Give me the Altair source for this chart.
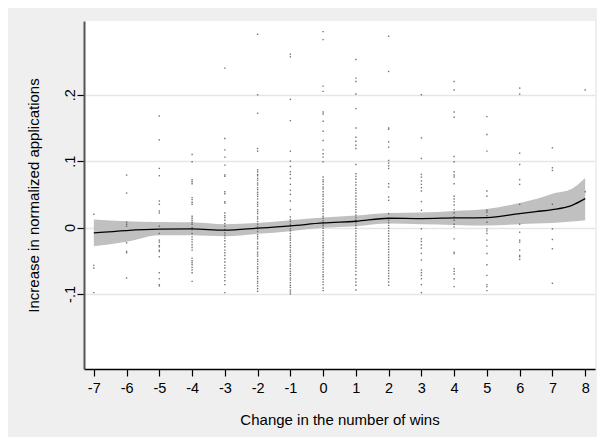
import altair as alt
import pandas as pd

# ---------------- data ----------------
x_ticks = list(range(-7, 9))
y_ticks = [-0.1, 0, 0.1, 0.2]

pts_m7 = [0.020, -0.057, -0.061, -0.098]
pts_m6 = [0.079, 0.052, 0.008, 0.005, 0.002, -0.023, -0.036, -0.038, -0.076]
pts_m5 = [0.168, 0.132, 0.089, 0.078, 0.040, 0.035, 0.025, 0.022, 0.002, -0.009,
          -0.019, -0.022, -0.027, -0.029, -0.034, -0.036, -0.044, -0.068, -0.077,
          -0.086, -0.088]
pts_m4 = [0.110, 0.099, 0.072, 0.069, 0.066, 0.045, 0.042, 0.038, 0.035, 0.017,
          0.014, 0.011, 0.008, 0.005, 0.000, -0.003, -0.009, -0.014, -0.018, -0.022,
          -0.026, -0.030, -0.034, -0.046, -0.050, -0.053, -0.056, -0.060, -0.064,
          -0.068, -0.081]
pts_m3 = [0.240, 0.134, 0.117, 0.106, 0.094, 0.079, 0.077, 0.054, 0.051, 0.039,
          0.037, 0.022, 0.018, 0.015, 0.011, 0.006, 0.002, -0.003, -0.008, -0.012,
          -0.016, -0.020, -0.025, -0.029, -0.034, -0.038, -0.042, -0.047, -0.052,
          -0.057, -0.061, -0.066, -0.071, -0.075, -0.080, -0.086, -0.098]
pts_m2 = [0.291, 0.200, 0.172, 0.119, 0.115, 0.087, 0.084, 0.080, 0.078, 0.074,
          0.071, 0.067, 0.064, 0.060, 0.057, 0.053, 0.050, 0.047, 0.043, 0.038,
          0.035, 0.032, 0.027, 0.024, 0.021, 0.016, 0.013, 0.009, 0.005, 0.001,
          -0.002, -0.006, -0.011, -0.014, -0.017, -0.022, -0.025, -0.029, -0.032,
          -0.037, -0.040, -0.043, -0.048, -0.051, -0.055, -0.059, -0.062, -0.066,
          -0.069, -0.074, -0.077, -0.081, -0.084, -0.088, -0.092, -0.096]
pts_m1 = [0.261, 0.257, 0.193, 0.161, 0.115, 0.100, 0.092, 0.084, 0.080, 0.074,
          0.065, 0.056, 0.050, 0.040, 0.027, 0.016, 0.012, 0.009, 0.005, 0.002,
          -0.002, -0.005, -0.009, -0.013, -0.016, -0.019, -0.023, -0.027, -0.030,
          -0.034, -0.037, -0.041, -0.044, -0.048, -0.051, -0.055, -0.058, -0.062,
          -0.066, -0.069, -0.072, -0.076, -0.079, -0.083, -0.087, -0.090, -0.094,
          -0.097, -0.100]
pts_0 = [0.295, 0.283, 0.213, 0.205, 0.174, 0.171, 0.160, 0.145, 0.131, 0.117,
         0.111, 0.106, 0.099, 0.076, 0.072, 0.069, 0.065, 0.061, 0.058, 0.054,
         0.050, 0.047, 0.043, 0.039, 0.036, 0.032, 0.028, 0.025, 0.021, 0.017,
         0.014, 0.010, 0.006, 0.003, -0.001, -0.005, -0.008, -0.012, -0.016,
         -0.019, -0.023, -0.027, -0.030, -0.034, -0.038, -0.041, -0.045, -0.049,
         -0.052, -0.056, -0.060, -0.063, -0.067, -0.071, -0.074, -0.078, -0.082,
         -0.086, -0.091, -0.095]
pts_1 = [0.253, 0.225, 0.220, 0.201, 0.179, 0.150, 0.136, 0.130, 0.124, 0.119,
         0.095, 0.081, 0.077, 0.073, 0.068, 0.064, 0.059, 0.056, 0.052, 0.047,
         0.043, 0.039, 0.035, 0.031, 0.027, 0.023, 0.019, 0.015, 0.011, 0.007,
         0.003, -0.001, -0.005, -0.009, -0.013, -0.017, -0.021, -0.025, -0.029,
         -0.033, -0.037, -0.041, -0.045, -0.049, -0.053, -0.057, -0.061, -0.066,
         -0.071, -0.077, -0.082, -0.087, -0.094]
pts_2 = [0.288, 0.235, 0.150, 0.148, 0.129, 0.121, 0.101, 0.097, 0.093, 0.089,
         0.066, 0.061, 0.046, 0.041, 0.021, 0.011, 0.007, 0.003, -0.001, -0.005,
         -0.009, -0.013, -0.017, -0.021, -0.025, -0.029, -0.033, -0.037, -0.041,
         -0.045, -0.049, -0.053, -0.057, -0.061, -0.065, -0.069, -0.073, -0.077,
         -0.082, -0.087]
pts_3 = [0.200, 0.135, 0.104, 0.080, 0.076, 0.070, 0.065, 0.060, 0.055, 0.039,
         0.026, -0.002, -0.017, -0.021, -0.026, -0.031, -0.039, -0.049, -0.064,
         -0.068, -0.072, -0.077, -0.086, -0.098]
pts_4 = [0.220, 0.207, 0.174, 0.166, 0.107, 0.099, 0.084, 0.079, 0.076, 0.066,
         0.047, 0.043, 0.039, 0.034, 0.027, 0.022, 0.016, 0.011, 0.005, 0.001,
         -0.017, -0.037, -0.039, -0.062, -0.066, -0.070, -0.077, -0.089]
pts_5 = [0.167, 0.140, 0.115, 0.055, 0.047, 0.026, 0.023, 0.018, 0.008, -0.002,
         -0.005, -0.009, -0.019, -0.028, -0.039, -0.056, -0.072, -0.086, -0.089,
         -0.095]
pts_6 = [0.210, 0.201, 0.112, 0.095, 0.072, 0.065, 0.035, 0.005, -0.007, -0.019,
         -0.022, -0.034, -0.042, -0.044, -0.048]
pts_7 = [0.120, 0.090, 0.086, 0.035, -0.002, -0.018, -0.032, -0.084]
pts_8 = [0.207, 0.054]

columns = {-7: pts_m7, -6: pts_m6, -5: pts_m5, -4: pts_m4, -3: pts_m3,
           -2: pts_m2, -1: pts_m1, 0: pts_0, 1: pts_1, 2: pts_2, 3: pts_3,
           4: pts_4, 5: pts_5, 6: pts_6, 7: pts_7, 8: pts_8}

# local polynomial fit and its confidence band
fit_x = [-7, -6, -5, -4, -3, -2, -1, 0, 1, 2, 3, 4, 5, 6, 6.5, 7, 7.6, 8]
fit_y = [-0.008, -0.0045, -0.0025, -0.002, -0.004, -0.001, 0.0025, 0.007,
         0.0095, 0.014, 0.0135, 0.0145, 0.015, 0.021, 0.024, 0.027, 0.0335, 0.0435]
ci_lo = [-0.028, -0.0215, -0.0115, -0.0115, -0.013, -0.0095, -0.0055, -0.0005,
         0.002, 0.006, 0.005, 0.004, 0.003, 0.005, 0.006, 0.007, 0.009, 0.011]
ci_hi = [0.012, 0.0095, 0.0085, 0.008, 0.005, 0.007, 0.011, 0.015, 0.018,
         0.022, 0.0225, 0.025, 0.028, 0.037, 0.043, 0.051, 0.0585, 0.0745]

scatter_df = pd.DataFrame([{"x": k, "y": v} for k, vs in columns.items() for v in vs])
fit_df = pd.DataFrame({"x": fit_x, "y": fit_y, "lo": ci_lo, "hi": ci_hi})

# ---------------- chart ----------------
FONT = "Liberation Sans"
x_scale = alt.Scale(domain=[-7.3, 8.3], nice=False, zero=False)
y_scale = alt.Scale(domain=[-0.213, 0.311], nice=False, zero=False)

x_axis = alt.Axis(values=x_ticks, title="Change in the number of wins",
                  labelExpr="'' + datum.value", grid=False, labelOverlap=False,
                  labelFlush=False, labelBound=False,
                  domainColor="#000000", domainWidth=1.5, tickColor="#000000",
                  tickSize=7, tickWidth=1.2, labelPadding=5, titlePadding=18,
                  labelFontSize=14.5, titleFontSize=15, labelFont=FONT,
                  titleFont=FONT, labelColor="#000000", titleColor="#000000",
                  titleFontWeight="normal")
y_axis = alt.Axis(values=y_ticks, title="Increase in normalized applications",
                  labelExpr="datum.value == 0 ? '0' : replace('' + datum.value, '0.', '.')",
                  grid=True, gridColor="#e6e6e6", gridWidth=1.5, labelOverlap=False,
                  labelFlush=False, labelBound=False,
                  domainColor="#555555", domainWidth=2, tickColor="#000000",
                  tickSize=7, tickWidth=1.2, labelAngle=270, labelAlign="center",
                  labelBaseline="bottom", labelPadding=0, titlePadding=21,
                  labelFontSize=14.5, titleFontSize=15, labelFont=FONT,
                  titleFont=FONT, labelColor="#000000", titleColor="#000000",
                  titleFontWeight="normal")

band = alt.Chart(fit_df).mark_area(color="#c0c0c0", opacity=1,
                                   interpolate="monotone").encode(
    x=alt.X("x:Q", scale=x_scale, axis=x_axis),
    y=alt.Y("lo:Q", scale=y_scale, axis=y_axis),
    y2="hi:Q",
)

dots = alt.Chart(scatter_df).mark_square(size=2, color="#555555", opacity=0.8).encode(
    x=alt.X("x:Q", scale=x_scale, axis=x_axis),
    y=alt.Y("y:Q", scale=y_scale, axis=y_axis),
)

line = alt.Chart(fit_df).mark_line(color="#000000", strokeWidth=1.3,
                                   interpolate="monotone").encode(
    x=alt.X("x:Q", scale=x_scale, axis=x_axis),
    y=alt.Y("y:Q", scale=y_scale, axis=y_axis),
)

chart = alt.layer(band, dots, line).properties(
    width=511, height=348,
    autosize=alt.AutoSizeParams(type="none"),
    padding={"left": 76, "top": 13, "right": 2, "bottom": 68},
    background="#efefef",
).configure_view(fill="#ffffff", stroke=None).configure_axis(labelOverlap=False)

chart.save("out.html", embed_options={"renderer": "svg", "actions": False})
